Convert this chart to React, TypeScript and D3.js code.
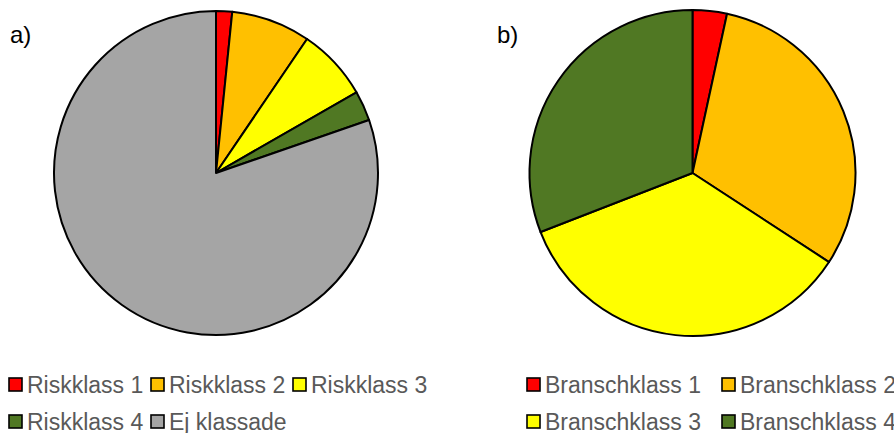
import React, { useEffect, useRef } from "react";
import * as d3 from "d3";

// pie a) - risk classes (share of objects, %)
const riskLabels = ["Riskklass 1", "Riskklass 2", "Riskklass 3", "Riskklass 4", "Ej klassade"];
const riskValues = [1.6, 7.9, 7.2, 3.0, 80.3];
const riskColors = ["#FF0000", "#FFC000", "#FFFF00", "#507823", "#A5A5A5"];

// pie b) - branch classes
const branchLabels = ["Branschklass 1", "Branschklass 2", "Branschklass 3", "Branschklass 4"];
const branchValues = [3.4, 30.8, 34.9, 30.9];
const branchColors = ["#FF0000", "#FFC000", "#FFFF00", "#507823"];

const W = 894;
const H = 433;

const App = () => {
    const svgRef = useRef(null);

    useEffect(() => {
        const svg = d3.select(svgRef.current);
        svg.selectAll("*").remove();

        const font = "'Liberation Sans', Arial, sans-serif";

        const drawPie = (cx, cy, r, values, colors, tag, tagX) => {
            const pie = d3.pie().sort(null).value(d => d);
            const arc = d3.arc().innerRadius(0).outerRadius(r);
            const g = svg.append("g").attr("transform", `translate(${cx},${cy})`);
            g.selectAll("path")
                .data(pie(values))
                .join("path")
                .attr("d", arc)
                .attr("fill", (d, i) => colors[i])
                .attr("stroke", "#000")
                .attr("stroke-width", 2)
                .attr("stroke-linejoin", "round");

            svg.append("text")
                .attr("x", tagX)
                .attr("y", 43)
                .attr("font-family", font)
                .attr("font-size", 24)
                .attr("fill", "#000")
                .text(tag);
        };

        const drawLegend = (labels, colors, x0, colW, perRow) => {
            const g = svg.append("g");
            labels.forEach((lab, i) => {
                const col = i % perRow;
                const row = Math.floor(i / perRow);
                const x = x0 + col * colW;
                const y = 384.5 + row * 37;
                g.append("rect")
                    .attr("x", x)
                    .attr("y", y - 6.5)
                    .attr("width", 13)
                    .attr("height", 13)
                    .attr("fill", colors[i])
                    .attr("stroke", "#000")
                    .attr("stroke-width", 1.6);
                g.append("text")
                    .attr("x", x + 18)
                    .attr("y", y + 8)
                    .attr("font-family", font)
                    .attr("font-size", 23)
                    .attr("fill", "#595959")
                    .text(lab);
            });
        };

        drawPie(216, 173, 162, riskValues, riskColors, "a)", 10);
        drawPie(692.5, 173, 163, branchValues, branchColors, "b)", 497);

        drawLegend(riskLabels, riskColors, 9, 142, 3);
        drawLegend(branchLabels, branchColors, 527, 195, 2);
    }, []);

    return (
        <svg
            ref={svgRef}
            width={W}
            height={H}
            style={{ position: "absolute", left: 0, top: 0, background: "#fff" }}
        ></svg>
    );
};

export default App;
